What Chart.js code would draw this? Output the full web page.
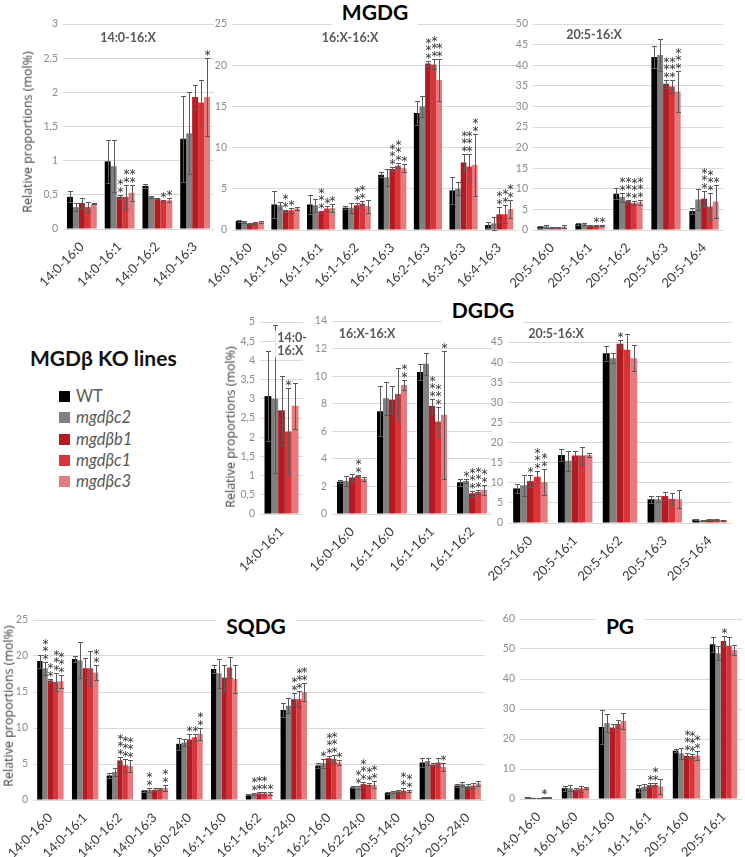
<!DOCTYPE html>
<html>
<head>
<meta charset="utf-8">
<script src="https://cdn.jsdelivr.net/npm/chart.js@4/dist/chart.umd.min.js"></script>
<style>
  body { margin: 0; width: 745px; height: 857px; position: relative; overflow: hidden; background: #fff; font-family: Lato, "Open Sans", sans-serif; }
  canvas { position: absolute; }
  .txt { position: absolute; transform: translate(-50%, -50%); white-space: nowrap; line-height: 1; }
  .title { font-weight: bold; font-size: 21px; color: #000; background: #fff; padding: 4px 10px; }
  .sub { font-weight: bold; font-size: 12.5px; color: #595959; background: #fff; padding: 1px 2px; }
  .ytitle { font-family: "Open Sans", sans-serif; font-size: 12.5px; color: #404040; transform: translate(-50%, -50%) rotate(-90deg); }
  .leg-title { position: absolute; left: 30px; top: 345px; font-weight: bold; font-size: 21px; color: #111; }
  .leg { position: absolute; left: 59px; font-size: 16.5px; color: #595959; line-height: 1; }
  .leg span { display: inline-block; width: 11px; height: 11px; margin-right: 6px; vertical-align: 0px; }
</style>
</head>
<body>
<script>
// genotypes (order of bars inside each group)
const GENOTYPES = ['WT', 'mgdβc2', 'mgdβb1', 'mgdβc1', 'mgdβc3'];
const COLORS = ['#000000', '#808080', '#b31b21', '#d8343a', '#e67b7f'];

// --- MGDG 14:0-16:X --- (rows = categories, cols = genotypes)
const mgdgA_cats = ['14:0-16:0', '14:0-16:1', '14:0-16:2', '14:0-16:3'];
const mgdgA_vals = [[0.47, 0.32, 0.38, 0.32, 0.37], [0.99, 0.92, 0.47, 0.47, 0.53], [0.63, 0.47, 0.45, 0.41, 0.42], [1.32, 1.40, 1.93, 1.85, 1.93]];
const mgdgA_errs = [[0.08, 0.06, 0.07, 0.07, 0.01], [0.31, 0.38, 0.03, 0.18, 0.12], [0.03, 0.01, 0.01, 0.02, 0.03], [0.63, 0.60, 0.18, 0.33, 0.57]];
const mgdgA_stars = [[0, 0, 0, 0, 0], [0, 0, 2, 2, 2], [0, 0, 0, 1, 1], [0, 0, 0, 0, 1]];

// --- MGDG 16:X-16:X ---
const mgdgB_cats = ['16:0-16:0', '16:1-16:0', '16:1-16:1', '16:1-16:2', '16:1-16:3', '16:2-16:3', '16:3-16:3', '16:4-16:3'];
const mgdgB_vals = [[1.1, 1.0, 0.8, 0.85, 0.95], [3.1, 3.0, 2.3, 2.4, 2.6], [3.1, 3.0, 2.2, 2.6, 2.65], [2.7, 2.7, 3.0, 3.2, 2.9],
  [6.7, 6.4, 7.4, 7.8, 7.5], [14.2, 15.0, 20.2, 20.1, 18.2], [4.8, 5.0, 8.2, 7.7, 7.9], [0.6, 0.8, 1.9, 1.9, 2.55]];
const mgdgB_errs = [[0.1, 0.1, 0.1, 0.1, 0.1], [1.6, 0.4, 0.1, 0.3, 0.2], [1.1, 0.8, 0.1, 0.3, 0.5], [0.2, 0.6, 0.3, 0.3, 0.8],
  [0.3, 1.0, 0.3, 0.3, 0.5], [1.5, 1.3, 0.3, 0.6, 2.6], [1.6, 0.8, 1.0, 1.5, 3.8], [0.4, 0.8, 0.9, 1.1, 1.1]];
const mgdgB_stars = [[0, 0, 0, 0, 0], [0, 0, 2, 1, 0], [0, 0, 3, 1, 1], [0, 0, 2, 2, 0], [0, 0, 3, 3, 1], [0, 0, 3, 3, 2], [0, 0, 3, 3, 2], [0, 0, 2, 2, 2]];

// --- MGDG 20:5-16:X ---
const mgdgC_cats = ['20:5-16:0', '20:5-16:1', '20:5-16:2', '20:5-16:3', '20:5-16:4'];
const mgdgC_vals = [[0.8, 0.9, 0.6, 0.65, 0.8], [1.5, 1.4, 1.1, 1.0, 1.1], [8.8, 8.0, 7.0, 6.5, 6.7], [42.0, 42.5, 35.5, 34.8, 33.6], [4.6, 7.4, 7.6, 5.7, 6.9]];
const mgdgC_errs = [[0.2, 0.4, 0.1, 0.1, 0.3], [0.2, 0.2, 0.1, 0.1, 0.2], [1.3, 1.1, 0.4, 0.5, 0.7], [2.7, 3.8, 1.0, 1.5, 5.0], [0.8, 2.5, 1.9, 3.3, 4.1]];
const mgdgC_stars = [[0, 0, 0, 0, 0], [0, 0, 0, 1, 1], [0, 2, 3, 3, 3], [0, 0, 3, 3, 3], [0, 0, 3, 3, 1]];

// --- DGDG 14:0-16:X ---
const dgdgA_cats = ['14:0-16:1'];
const dgdgA_vals = [[3.07, 3.0, 2.7, 2.15, 2.82]];
const dgdgA_errs = [[1.17, 1.92, 0.9, 1.13, 0.6]];
const dgdgA_stars = [[0, 0, 0, 1, 0]];

// --- DGDG 16:X-16:X ---
const dgdgB_cats = ['16:0-16:0', '16:1-16:0', '16:1-16:1', '16:1-16:2'];
const dgdgB_vals = [[2.35, 2.4, 2.65, 2.75, 2.55], [7.45, 8.4, 8.3, 8.7, 9.35], [10.3, 10.9, 7.85, 6.7, 7.2], [2.3, 2.4, 1.5, 1.6, 1.75]];
const dgdgB_errs = [[0.1, 0.35, 0.25, 0.1, 0.12], [1.8, 1.2, 1.0, 1.9, 0.35], [0.6, 0.8, 0.5, 1.05, 4.65], [0.25, 0.15, 0.2, 0.15, 0.35]];
const dgdgB_stars = [[0, 0, 0, 2, 0], [0, 0, 0, 0, 2], [0, 0, 3, 3, 1], [0, 1, 3, 3, 2]];

// --- DGDG 20:5-16:X ---
const dgdgC_cats = ['20:5-16:0', '20:5-16:1', '20:5-16:2', '20:5-16:3', '20:5-16:4'];
const dgdgC_vals = [[8.6, 9.4, 10.4, 11.5, 10.2], [16.9, 15.5, 16.8, 16.8, 16.9], [42.2, 41.0, 44.6, 43.1, 41.0], [5.9, 5.9, 6.7, 6.0, 5.9], [0.9, 0.6, 0.9, 0.9, 0.7]];
const dgdgC_errs = [[1.2, 2.6, 1.5, 1.5, 3.3], [1.4, 2.5, 1.2, 2.0, 0.6], [1.8, 1.3, 0.8, 4.0, 3.2], [0.9, 0.7, 0.9, 1.4, 2.2], [0.1, 0.1, 0.1, 0.15, 0.1]];
const dgdgC_stars = [[0, 0, 1, 3, 2], [0, 0, 0, 0, 0], [0, 0, 1, 0, 0], [0, 0, 0, 0, 0], [0, 0, 0, 0, 0]];

// --- SQDG ---
const sqdg_cats = ['14:0-16:0', '14:0-16:1', '14:0-16:2', '14:0-16:3', '16:0-24:0', '16:1-16:0', '16:1-16:2', '16:1-24:0', '16:2-16:0', '16:2-24:0', '20:5-14:0', '20:5-16:0', '20:5-24:0'];
const sqdg_vals = [[19.3, 18.3, 16.6, 16.4, 16.5], [19.6, 19.4, 18.3, 18.3, 17.7], [3.4, 3.9, 5.5, 4.8, 4.7], [1.3, 1.4, 1.4, 1.5, 1.65],
  [7.8, 8.0, 8.4, 8.7, 9.2], [18.2, 17.6, 17.0, 18.4, 16.8], [0.75, 0.85, 0.9, 0.9, 0.9], [12.5, 13.1, 14.0, 14.0, 15.0],
  [4.8, 5.1, 5.8, 5.7, 5.2], [1.75, 1.75, 2.2, 2.1, 2.1], [1.0, 1.1, 1.2, 1.3, 1.2], [5.2, 5.4, 4.9, 5.2, 4.6], [2.0, 2.2, 1.9, 2.0, 2.3]];
const sqdg_errs = [[0.9, 0.9, 0.15, 1.2, 0.9], [0.4, 2.5, 1.4, 2.4, 1.1], [0.3, 0.6, 0.5, 0.9, 0.8], [0.15, 0.3, 0.2, 0.15, 0.4],
  [0.8, 0.5, 0.8, 0.5, 0.8], [0.5, 2.0, 1.8, 1.5, 1.9], [0.1, 0.15, 0.2, 0.2, 0.2], [1.0, 1.0, 0.8, 1.1, 1.2],
  [0.3, 0.6, 0.3, 0.6, 0.4], [0.15, 0.2, 0.3, 0.2, 0.5], [0.1, 0.1, 0.2, 0.3, 0.15], [0.6, 0.5, 0.2, 0.6, 0.6], [0.2, 0.3, 0.3, 0.3, 0.3]];
const sqdg_stars = [[0, 3, 2, 3, 3], [0, 0, 0, 0, 2], [0, 0, 3, 3, 3], [0, 2, 0, 0, 2], [0, 0, 1, 1, 2], [0, 0, 0, 0, 0], [0, 2, 2, 2, 1],
  [0, 0, 2, 3, 2], [0, 1, 3, 3, 1], [0, 2, 3, 2, 2], [0, 0, 0, 2, 2], [0, 0, 0, 0, 1], [0, 0, 0, 0, 0]];

// --- PG ---
const pg_cats = ['14:0-16:0', '16:0-16:0', '16:1-16:0', '16:1-16:1', '20:5-16:0', '20:5-16:1'];
const pg_vals = [[0.6, 0.4, 0.3, 0.5, 0.5], [3.6, 3.6, 3.1, 3.5, 3.7], [24.0, 25.3, 23.8, 25.0, 26.0], [3.5, 4.1, 4.6, 4.7, 4.2], [16.1, 15.2, 14.4, 14.3, 14.5], [51.6, 48.6, 52.7, 51.1, 49.7]];
const pg_errs = [[0.1, 0.1, 0.1, 0.1, 0.1], [0.8, 1.0, 0.5, 1.0, 0.2], [5.8, 3.0, 1.2, 1.3, 2.7], [1.3, 1.0, 0.7, 0.5, 2.6], [0.5, 1.7, 0.8, 0.6, 1.5], [2.5, 2.3, 1.8, 2.9, 1.6]];
const pg_stars = [[0, 0, 0, 1, 0], [0, 0, 0, 0, 0], [0, 0, 0, 0, 0], [0, 0, 1, 2, 0], [0, 0, 3, 3, 2], [0, 0, 1, 0, 0]];

Chart.defaults.font.family = 'Lato, "Open Sans", sans-serif';

// error bars + significance stars, drawn from the bar elements and the y scale
const errorBars = (errs, stars) => ({
  id: 'errorBars',
  afterDatasetsDraw(chart) {
    const { ctx, scales: { y } } = chart;
    ctx.save();
    ctx.strokeStyle = '#5a5a5a';
    ctx.lineWidth = 1;
    ctx.fillStyle = '#333333';
    ctx.font = '12px "DejaVu Sans"';
    ctx.textAlign = 'center';
    ctx.textBaseline = 'middle';
    chart.data.datasets.forEach((ds, i) => {
      chart.getDatasetMeta(i).data.forEach((bar, j) => {
        const v = ds.data[j], e = errs[j][i];
        const x = Math.round(bar.x) + 0.5;
        const top = Math.round(y.getPixelForValue(v + e)) + 0.5;
        const bot = Math.round(y.getPixelForValue(Math.max(v - e, 0))) + 0.5;
        ctx.beginPath();
        ctx.moveTo(x, top); ctx.lineTo(x, bot);
        ctx.moveTo(x - 2.5, top); ctx.lineTo(x + 2.5, top);
        ctx.moveTo(x - 2.5, bot); ctx.lineTo(x + 2.5, bot);
        ctx.stroke();
        for (let k = 0; k < stars[j][i]; k++) {
          ctx.fillText('*', x, top - 3 - k * 7.5);
        }
      });
    });
    ctx.restore();
  }
});

// plot = where the chart area must land on the page
const makePanel = (plot, cats, vals, errs, stars, yMax, yStep, catPct, hideTop = false) => {
  const yW = 34, xH = 60, padTop = 12, padRight = 2;
  const cv = document.createElement('canvas');
  cv.width = plot.w + yW + padRight;
  cv.height = plot.h + padTop + xH;
  cv.style.left = (plot.x - yW) + 'px';
  cv.style.top = (plot.y - padTop) + 'px';
  document.body.appendChild(cv);

  const datasets = GENOTYPES.map((g, i) => ({
    label: g,
    data: vals.map(r => r[i]),
    backgroundColor: COLORS[i],
    borderWidth: 0,
    barPercentage: 1,
    categoryPercentage: catPct
  }));

  new Chart(cv, {
    type: 'bar',
    data: { labels: cats, datasets },
    options: {
      responsive: false,
      animation: false,
      layout: { padding: { top: padTop, right: padRight, left: 0, bottom: 0 } },
      plugins: { legend: { display: false }, tooltip: { enabled: false } },
      scales: {
        x: {
          grid: { display: false },
          border: { display: false },
          ticks: { autoSkip: false, minRotation: 45, maxRotation: 45, padding: 2, color: '#3a3a3a', font: { size: 13 } },
          afterFit(s) { s.height = xH; s.paddingLeft = 0; s.paddingRight = 0; }
        },
        y: {
          min: 0, max: yMax,
          grid: { color: '#d9d9d9', drawTicks: false },
          border: { display: false },
          ticks: {
            stepSize: yStep, padding: 5, color: '#8c8c8c', font: { size: 10.5 },
            callback: v => (hideTop && v === yMax) ? '' : String(Math.round(v * 10) / 10).replace('.', ',')
          },
          afterFit(s) { s.width = yW; s.paddingTop = 0; s.paddingBottom = 0; }
        }
      }
    },
    plugins: [errorBars(errs, stars)]
  });
};

makePanel({ x: 63, y: 24, w: 151, h: 205 }, mgdgA_cats, mgdgA_vals, mgdgA_errs, mgdgA_stars, 3, 0.5, 0.79);
makePanel({ x: 232, y: 24, w: 285, h: 206 }, mgdgB_cats, mgdgB_vals, mgdgB_errs, mgdgB_stars, 25, 5, 0.79);
makePanel({ x: 533, y: 24, w: 190, h: 206 }, mgdgC_cats, mgdgC_vals, mgdgC_errs, mgdgC_stars, 50, 5, 0.77);
makePanel({ x: 260, y: 322, w: 43, h: 192 }, dgdgA_cats, dgdgA_vals, dgdgA_errs, dgdgA_stars, 5, 0.5, 0.79);
makePanel({ x: 332, y: 321, w: 160, h: 193 }, dgdgB_cats, dgdgB_vals, dgdgB_errs, dgdgB_stars, 14, 2, 0.75);
makePanel({ x: 508, y: 322, w: 224, h: 201 }, dgdgC_cats, dgdgC_vals, dgdgC_errs, dgdgC_stars, 50, 5, 0.77, true);
makePanel({ x: 33, y: 620, w: 452, h: 180 }, sqdg_cats, sqdg_vals, sqdg_errs, sqdg_stars, 25, 5, 0.76);
makePanel({ x: 520, y: 619, w: 222, h: 180 }, pg_cats, pg_vals, pg_errs, pg_stars, 60, 10, 0.74);

// --- texts ---
const addText = (text, x, y, cls) => {
  const d = document.createElement('div');
  d.className = 'txt ' + cls;
  d.innerHTML = text;
  d.style.left = x + 'px';
  d.style.top = y + 'px';
  document.body.appendChild(d);
};

addText('MGDG', 375, 11, 'title');
addText('DGDG', 483, 309, 'title');
addText('SQDG', 256, 625, 'title');
addText('PG', 620, 625, 'title');

addText('14:0-16:X', 128, 38, 'sub');
addText('16:X-16:X', 350, 38, 'sub');
addText('20:5-16:X', 594, 35, 'sub');
addText('14:0-<br>16:X', 292, 344, 'sub');
addText('16:X-16:X', 367, 334, 'sub');
addText('20:5-16:X', 556, 334, 'sub');

addText('Relative proportions (mol%)', 28, 132, 'ytitle');
addText('Relative proportions (mol%)', 231, 427, 'ytitle');
addText('Relative proportions (mol%)', 9, 706, 'ytitle');

// legend
const lt = document.createElement('div');
lt.className = 'leg-title';
lt.textContent = 'MGDβ KO lines';
document.body.appendChild(lt);
GENOTYPES.forEach((g, i) => {
  const d = document.createElement('div');
  d.className = 'leg';
  d.style.top = (388 + i * 21.3) + 'px';
  if (i > 0) d.style.fontStyle = 'italic';
  d.innerHTML = `<span style="background:${COLORS[i]}"></span>${g}`;
  document.body.appendChild(d);
});
</script>
</body>
</html>
